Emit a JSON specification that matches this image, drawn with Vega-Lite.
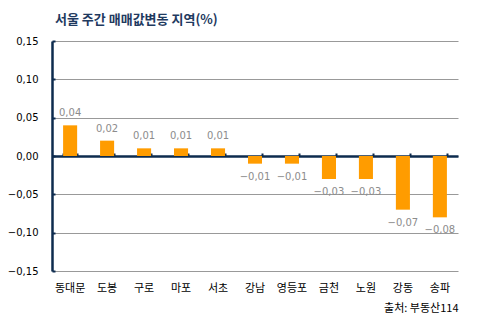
{
  "$schema": "https://vega.github.io/schema/vega-lite/v6.json",
  "autosize": "none",
  "width": 406,
  "height": 230,
  "padding": {"left": 52, "top": 41, "right": 21, "bottom": 53},
  "background": "white",
  "config": {
    "view": {"stroke": null},
    "font": "Noto Sans CJK KR"
  },
  "title": {
    "text": "서울 주간 매매값변동 지역(%)",
    "anchor": "start",
    "frame": "group",
    "dx": 3,
    "offset": 9,
    "fontSize": 13,
    "fontWeight": "bold",
    "color": "#1f3a5f",
    "font": "Noto Sans CJK KR"
  },
  "data": {
    "values": [
      {"region": "동대문", "value": 0.04},
      {"region": "도봉", "value": 0.02},
      {"region": "구로", "value": 0.01},
      {"region": "마포", "value": 0.01},
      {"region": "서초", "value": 0.01},
      {"region": "강남", "value": -0.01},
      {"region": "영등포", "value": -0.01},
      {"region": "금천", "value": -0.03},
      {"region": "노원", "value": -0.03},
      {"region": "강동", "value": -0.07},
      {"region": "송파", "value": -0.08}
    ]
  },
  "transform": [{"calculate": "replace(format(datum.value, '.2f'), '.', ',')", "as": "lbl"}],
  "encoding": {
    "x": {
      "field": "region",
      "type": "nominal",
      "sort": null,
      "scale": {"paddingInner": 0.62, "paddingOuter": 0.3}
    },
    "y": {
      "field": "value",
      "type": "quantitative",
      "scale": {"domain": [-0.15, 0.15], "nice": false, "zero": false}
    }
  },
  "layer": [
    {
      "mark": {"type": "bar", "color": "#ff9c00"},
      "encoding": {
        "x": {
          "field": "region",
          "type": "nominal",
          "sort": null,
          "axis": {
            "orient": "bottom",
            "title": "출처: 부동산114",
            "titleAnchor": "end",
            "titleAlign": "right",
            "titleFontWeight": "normal",
            "titleFontSize": 11,
            "titleColor": "#000000",
            "titlePadding": 9,
            "labelAngle": 0,
            "labelFontSize": 11,
            "labelColor": "#000000",
            "labelPadding": 11,
            "domain": false,
            "ticks": false,
            "grid": false
          }
        },
        "y": {
          "field": "value",
          "type": "quantitative",
          "axis": {
            "title": null,
            "values": [-0.15, -0.1, -0.05, 0, 0.05, 0.1, 0.15],
            "tickCount": 20,
            "labelExpr": "replace(format(datum.value, '.2f'), '.', ',')",
            "labelOverlap": false,
            "labelFontSize": 10,
            "labelFont": "DejaVu Sans",
            "labelColor": "#000000",
            "labelPadding": 17,
            "domainColor": "#0d2b4e",
            "domainWidth": 2.5,
            "tickColor": "#0d2b4e",
            "tickSize": -3,
            "tickWidth": 2,
            "grid": true,
            "gridColor": "#999999",
            "gridWidth": 1.2
          }
        }
      }
    },
    {
      "transform": [{"filter": "datum.value > 0"}],
      "mark": {"type": "text", "dy": -12, "baseline": "middle", "fontSize": 10, "color": "#8c8c8c", "font": "DejaVu Sans"},
      "encoding": {
        "x": {
          "field": "region",
          "type": "nominal",
          "sort": null,
          "axis": {
            "orient": "bottom",
            "offset": -115,
            "labels": false,
            "title": null,
            "domainColor": "#0d2b4e",
            "domainWidth": 2.5,
            "tickColor": "#0d2b4e",
            "tickWidth": 2,
            "tickSize": -3,
            "tickBand": "extent",
            "grid": false
          }
        },
        "text": {"field": "lbl", "type": "nominal"}
      }
    },
    {
      "transform": [{"filter": "datum.value < 0"}],
      "mark": {"type": "text", "dy": 13, "baseline": "middle", "fontSize": 10, "color": "#8c8c8c", "font": "DejaVu Sans"},
      "encoding": {
        "x": {"field": "region", "type": "nominal", "sort": null, "axis": null},
        "text": {"field": "lbl", "type": "nominal"}
      }
    }
  ],
  "resolve": {"axis": {"x": "independent"}}
}
